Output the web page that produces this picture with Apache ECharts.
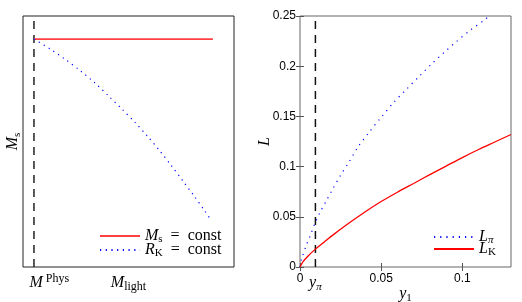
<!DOCTYPE html>
<html><head><meta charset="utf-8">
<script src="https://cdn.jsdelivr.net/npm/echarts@6/dist/echarts.min.js"></script>
<style>html,body{margin:0;padding:0;background:#fff}#c{width:522px;height:302px}</style>
</head><body><div id="c"></div>
<script>
// ---- left panel (arbitrary units, no numeric ticks) ----
const leftPhysX = 0.052;                 // M^Phys position
const leftLabelPos = [0.125, 0.5];       // tick label positions
const leftLabels = ['Mphys', 'Mlight'];
const leftRedX = [0.052, 0.9];
const leftRedY = [0.908, 0.908];
const leftBlueX = [0.052, 0.128, 0.202, 0.273, 0.341, 0.406, 0.469, 0.531, 0.589, 0.648, 0.703, 0.757, 0.810, 0.861, 0.894];
const leftBlueY = [0.908, 0.869, 0.826, 0.781, 0.733, 0.681, 0.629, 0.576, 0.522, 0.463, 0.404, 0.344, 0.284, 0.224, 0.183];

// ---- right panel ----
const yPi = 0.0095;
const rightXTicks = [0, 0.05, 0.1];
const rightXLabelVals = [0, 0.0095, 0.05, 0.1];
const lPiX = [0, 0.001, 0.0035, 0.0064, 0.0091, 0.0122, 0.0159, 0.0196, 0.0252, 0.03, 0.0355, 0.043, 0.05, 0.0572, 0.065, 0.0735, 0.0816, 0.089, 0.096, 0.105, 0.1144, 0.1165];
const lPiY = [0, 0.008, 0.02, 0.0315, 0.043, 0.054, 0.065, 0.076, 0.092, 0.104, 0.119, 0.135, 0.149, 0.163, 0.176, 0.19, 0.203, 0.214, 0.224, 0.236, 0.247, 0.25];
const lKX = [0, 0.002, 0.005, 0.0095, 0.015, 0.02, 0.03, 0.04, 0.05, 0.06, 0.07, 0.08, 0.09, 0.1, 0.11, 0.12, 0.13];
const lKY = [0, 0.0055, 0.011, 0.0178, 0.025, 0.0315, 0.0435, 0.0548, 0.0652, 0.0745, 0.0832, 0.092, 0.1005, 0.109, 0.117, 0.1245, 0.132];

const zip = (xs, ys) => xs.map((x, i) => [x, ys[i]]);
const SERIF = '"Liberation Serif", "DejaVu Serif", serif';
const SANS = '"Liberation Sans", Arial, sans-serif';
function mkRich(fs, ss, lh) {
  return {
    i: {fontFamily: SERIF, fontStyle: 'italic', fontSize: fs, lineHeight: lh, color: '#000', verticalAlign: 'middle'},
    r: {fontFamily: SERIF, fontSize: fs, lineHeight: lh, color: '#000', verticalAlign: 'middle'},
    sup: {fontFamily: SERIF, fontSize: ss, lineHeight: lh, color: '#000', verticalAlign: 'top'},
    sub: {fontFamily: SERIF, fontSize: ss, lineHeight: lh, color: '#000', verticalAlign: 'bottom'},
    subi: {fontFamily: SERIF, fontStyle: 'italic', fontSize: ss, lineHeight: lh, color: '#000', verticalAlign: 'bottom'}
  };
}
const mathRich = mkRich(16, 11, 20);
const supRich = mkRich(16, 12, 20);
const legRich = mkRich(16, 11, 18);
const legendNames = {
  'Ms = const': '{i|M}{sub|s}{r|\u2002=\u2002const}',
  'RK = const': '{i|R}{sub|K}{r|\u2002=\u2002const}',
  'Lpi': '{i|L}{subi|π}',
  'LK': '{i|L}{sub|K}'
};
const leftLabelText = {
  'Mphys': '{i|M}{sup| Phys}',
  'Mlight': '{i|M}{sub|light}'
};

const chart = echarts.init(document.getElementById('c'), null, {renderer: 'canvas'});
const option = {
  animation: false,
  backgroundColor: '#fff',
  grid: [
    {left: 23, top: 16, width: 211, height: 251, outerBoundsMode: 'none', containLabel: false, show: true, borderColor: '#222', borderWidth: 1, backgroundColor: 'transparent'},
    {left: 300, top: 16, width: 211, height: 251, outerBoundsMode: 'none', containLabel: false, show: true, borderColor: '#666', borderWidth: 1, backgroundColor: 'transparent'}
  ],
  xAxis: [
    {gridIndex: 0, type: 'value', min: 0, max: 1, axisLine: {show: false}, axisTick: {show: false}, splitLine: {show: false},
      axisLabel: {customValues: leftLabelPos, margin: 6, rich: supRich,
        formatter: (v) => { const k = leftLabelPos.indexOf(v); return k >= 0 ? leftLabelText[leftLabels[k]] : ''; }}},
    {gridIndex: 1, type: 'value', min: 0, max: 0.13, axisLine: {show: false}, splitLine: {show: false},
      axisTick: {inside: true, length: 4, customValues: rightXTicks, lineStyle: {color: '#555'}},
      axisLabel: {customValues: rightXLabelVals, margin: 6, fontFamily: SANS, fontSize: 12, color: '#000', rich: mathRich,
        formatter: (v) => Math.abs(v - yPi) < 1e-9 ? '{i|y}{subi|π}' : String(v)},
      name: '{i|y}{sub|1}', nameLocation: 'middle', nameGap: 17, nameMoveOverlap: false, nameTextStyle: {rich: mathRich}},
    {gridIndex: 1, type: 'value', position: 'top', min: 0, max: 0.13, axisLine: {show: false}, splitLine: {show: false},
      axisTick: {inside: true, length: 4, customValues: rightXTicks, lineStyle: {color: '#555'}}, axisLabel: {show: false}}
  ],
  yAxis: [
    {gridIndex: 0, type: 'value', min: 0, max: 1, axisLine: {show: false}, axisTick: {show: false}, splitLine: {show: false}, axisLabel: {show: false},
      name: '{i|M}{sub|s}', nameLocation: 'middle', nameGap: 0, nameMoveOverlap: false, nameTextStyle: {rich: mathRich}},
    {gridIndex: 1, type: 'value', min: 0, max: 0.25, interval: 0.05, axisLine: {show: false}, splitLine: {show: false},
      axisTick: {inside: true, length: 4, lineStyle: {color: '#555'}},
      axisLabel: {margin: 4, fontFamily: SANS, fontSize: 12, color: '#000'},
      name: '{i|L}', nameLocation: 'middle', nameGap: 25, nameMoveOverlap: false, nameTextStyle: {rich: mathRich}},
    {gridIndex: 1, type: 'value', position: 'right', min: 0, max: 0.25, interval: 0.05, axisLine: {show: false}, splitLine: {show: false},
      axisTick: {inside: true, length: 4, lineStyle: {color: '#555'}}, axisLabel: {show: false}}
  ],
  legend: [
    {data: ['Ms = const', 'RK = const'], left: 99, top: 228, padding: 0, orient: 'vertical', itemWidth: 40, itemHeight: 14, itemGap: -3,
      itemStyle: {opacity: 0}, formatter: (n) => legendNames[n], textStyle: {rich: legRich}, selectedMode: false},
    {data: ['Lpi', 'LK'], left: 433, top: 229, padding: 0, orient: 'vertical', itemWidth: 40, itemHeight: 13, itemGap: -5,
      itemStyle: {opacity: 0}, formatter: (n) => legendNames[n], textStyle: {rich: legRich}, selectedMode: false}
  ],
  series: [
    {type: 'line', xAxisIndex: 0, yAxisIndex: 0, data: [[leftPhysX, 0], [leftPhysX, 1]], symbol: 'none', silent: true,
      lineStyle: {color: '#222', width: 1.5, type: [8, 6]}},
    {name: 'Ms = const', type: 'line', xAxisIndex: 0, yAxisIndex: 0, data: zip(leftRedX, leftRedY), symbol: 'none',
      lineStyle: {color: '#ff4040', width: 1.7}, itemStyle: {color: '#ff4040'}},
    {name: 'RK = const', type: 'line', xAxisIndex: 0, yAxisIndex: 0, data: zip(leftBlueX, leftBlueY), symbol: 'none', smooth: 0.3,
      lineStyle: {color: '#0000ff', width: 1.2, type: [1.2, 4.5]}, itemStyle: {color: '#0000ff'}},
    {type: 'line', xAxisIndex: 1, yAxisIndex: 1, data: [[yPi, 0], [yPi, 0.25]], symbol: 'none', silent: true,
      lineStyle: {color: '#111', width: 1.5, type: [8, 6]}},
    {name: 'Lpi', type: 'line', xAxisIndex: 1, yAxisIndex: 1, data: zip(lPiX, lPiY), symbol: 'none', smooth: 0.3,
      lineStyle: {color: '#0000ff', width: 1.2, type: [1.2, 5]}, itemStyle: {color: '#0000ff'}},
    {name: 'LK', type: 'line', xAxisIndex: 1, yAxisIndex: 1, data: zip(lKX, lKY), symbol: 'none', smooth: 0.3,
      lineStyle: {color: '#ff0000', width: 1.3}, itemStyle: {color: '#ff0000'}}
  ]
};
chart.setOption(option);
</script></body></html>
